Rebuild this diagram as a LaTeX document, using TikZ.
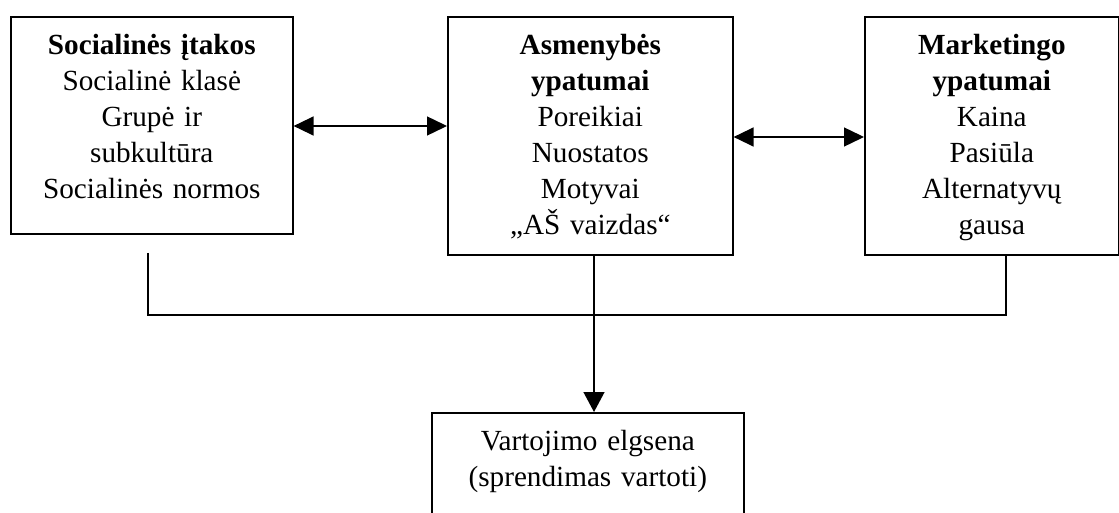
\documentclass[tikz,border=0pt]{standalone}
\usepackage{fontspec}
\setmainfont{Liberation Serif}
\usetikzlibrary{arrows.meta}
\begin{document}
\begin{tikzpicture}[x=0.5pt, y=-0.5pt,
        factor/.style={draw, line width=0.8pt, inner xsep=0pt, inner ysep=0pt, align=center, anchor=north west, font=\fontsize{14.6}{18}\selectfont, text height=19pt},
        link/.style={line width=0.7pt},
        both/.style={link, {Triangle[length=10pt,width=9.5pt]}-{Triangle[length=10pt,width=9.5pt]}},
        down/.style={link, -{Triangle[length=10pt,width=10.5pt]}}]
        \clip (0,0) rectangle (1119,513);
        
        \node (social) [factor, text width=141pt, text depth=89.5pt] at (10,16) {\textbf{Socialinės įtakos}\\ Socialinė klasė\\ Grupė ir\\ subkultūra\\ Socialinės normos};
        \node (person) [factor, text width=142.5pt, text depth=100pt] at (447,16) {\textbf{Asmenybės}\\ \textbf{ypatumai}\\ Poreikiai\\ Nuostatos\\ Motyvai\\ „AŠ vaizdas“};
        \node (market) [factor, text width=127pt, text depth=100pt] at (864,16) {\textbf{Marketingo}\\ \textbf{ypatumai}\\ Kaina\\ Pasiūla\\ Alternatyvų\\ gausa};
        
        \node (usage) [factor, text width=156pt, text depth=100pt] at (431,412) {Vartojimo elgsena\\ (sprendimas vartoti)};
        
        \coordinate (lstart) at (148,253);
        \coordinate (join) at (594,315);
        \coordinate (rjoin) at (1006,315);
        
        \draw [both] (social.east |- 0,126) -- (person.west |- 0,126);
        \draw [both] (person.east |- 0,137) -- (market.west |- 0,137);
        \draw [link] (lstart) |- (rjoin) -- (rjoin |- market.south);
        \draw [down] (join |- person.south) -- (join |- usage.north);
        
    \end{tikzpicture}
\end{document}
